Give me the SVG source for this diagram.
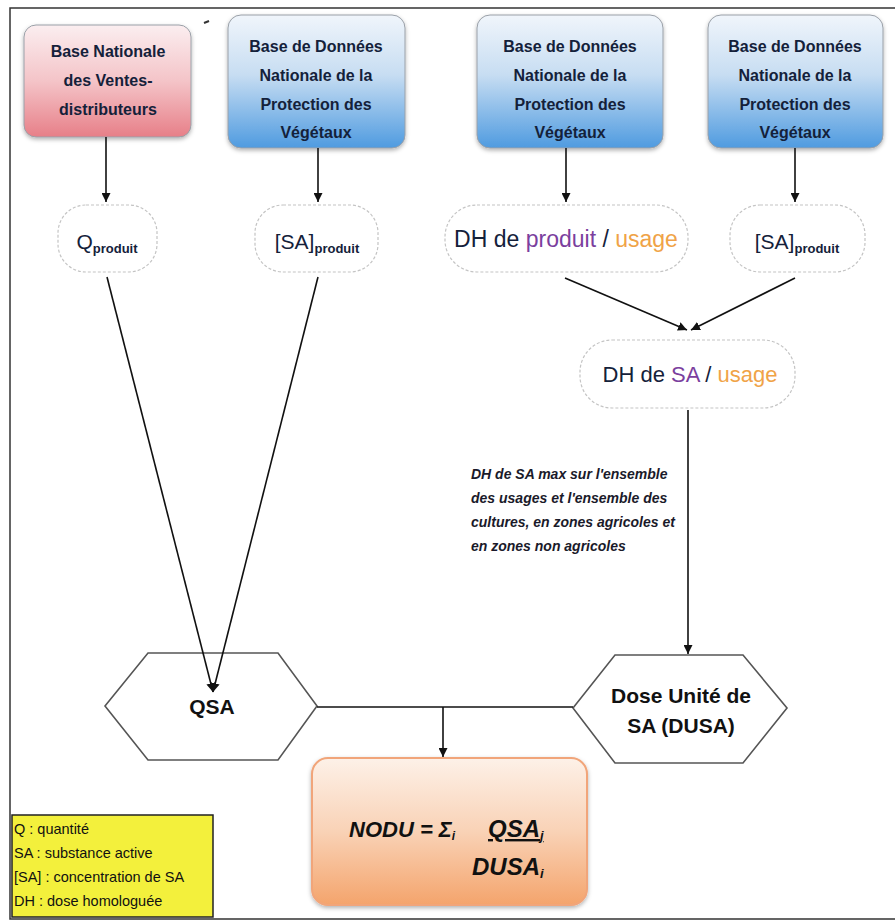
<svg xmlns="http://www.w3.org/2000/svg" width="895" height="922" viewBox="0 0 895 922">
<defs>
<linearGradient id="gPink" x1="0" y1="0" x2="0" y2="1"><stop offset="0" stop-color="#fbeef0"/><stop offset="0.5" stop-color="#f4c4c8"/><stop offset="1" stop-color="#e77f88"/></linearGradient>
<linearGradient id="gBlue" x1="0" y1="0" x2="0" y2="1"><stop offset="0" stop-color="#f0f5fb"/><stop offset="0.45" stop-color="#c7ddf2"/><stop offset="1" stop-color="#4f9be0"/></linearGradient>
<linearGradient id="gOrange" x1="0" y1="0" x2="0" y2="1"><stop offset="0" stop-color="#fdf1e8"/><stop offset="0.5" stop-color="#f9d2b6"/><stop offset="1" stop-color="#f4a46c"/></linearGradient>
<filter id="sh" x="-10%" y="-10%" width="120%" height="125%"><feDropShadow dx="0" dy="2" stdDeviation="2" flood-color="#000" flood-opacity="0.3"/></filter>
<marker id="arr" viewBox="0 0 10 10" refX="10" refY="5" markerWidth="9" markerHeight="9" markerUnits="userSpaceOnUse" orient="auto"><path d="M0,0 L10,5 L0,10 z" fill="#111"/></marker>
</defs>
<style>
.src{stroke:#9aa0a8;stroke-width:1}
.bt{font-family:"Liberation Sans",Arial,sans-serif;font-weight:bold;font-size:16px;fill:#14213a;text-anchor:middle}
.pill{fill:#fff;stroke:#c4c4c4;stroke-width:1.2;stroke-dasharray:3 2}
.pt{font-family:"Liberation Sans",Arial,sans-serif;fill:#14213a;text-anchor:middle}
.sub{font-size:13px;font-weight:bold}
.hex{fill:#fff;stroke:#555;stroke-width:1.6}
.ht{font-family:"Liberation Sans",Arial,sans-serif;font-weight:bold;font-size:21px;fill:#111;text-anchor:middle}
.cn{stroke:#111;stroke-width:1.6;fill:none}
.it{font-family:"Liberation Sans",Arial,sans-serif;font-weight:bold;font-style:italic;font-size:14px;fill:#1a1a2a}
.lg{font-family:"Liberation Sans",Arial,sans-serif;font-size:14.5px;fill:#111}
.pur{fill:#7b3f9e}
.org{fill:#f0a347}
.nf{font-family:"Liberation Sans",Arial,sans-serif;font-weight:bold;font-style:italic;font-size:24px;fill:#111}
</style>
<rect width="895" height="922" fill="#fff"/>
<polyline points="895,8 10,8 10,919 895,919" fill="none" stroke="#333" stroke-width="1.5"/>
<line x1="204" y1="23" x2="209" y2="21" stroke="#333" stroke-width="2"/>

<g id="n_bnv">
<rect x="24" y="25" width="167" height="112" rx="12" fill="url(#gPink)" class="src" filter="url(#sh)"/>
<text class="bt" x="108" y="57">Base Nationale</text>
<text class="bt" x="108" y="86">des Ventes-</text>
<text class="bt" x="108" y="115">distributeurs</text>
</g>
<g id="n_bdnpv1">
<rect x="228" y="15" width="177" height="133" rx="13" fill="url(#gBlue)" class="src" filter="url(#sh)"/>
<text class="bt" x="316" y="52">Base de Données</text>
<text class="bt" x="316" y="81">Nationale de la</text>
<text class="bt" x="316" y="110">Protection des</text>
<text class="bt" x="316" y="138">Végétaux</text>
</g>
<g id="n_bdnpv2">
<rect x="477" y="15" width="186" height="133" rx="13" fill="url(#gBlue)" class="src" filter="url(#sh)"/>
<text class="bt" x="570" y="52">Base de Données</text>
<text class="bt" x="570" y="81">Nationale de la</text>
<text class="bt" x="570" y="110">Protection des</text>
<text class="bt" x="570" y="138">Végétaux</text>
</g>
<g id="n_bdnpv3">
<rect x="708" y="15" width="175" height="133" rx="13" fill="url(#gBlue)" class="src" filter="url(#sh)"/>
<text class="bt" x="795" y="52">Base de Données</text>
<text class="bt" x="795" y="81">Nationale de la</text>
<text class="bt" x="795" y="110">Protection des</text>
<text class="bt" x="795" y="138">Végétaux</text>
</g>

<g id="n_qprod">
<rect class="pill" x="58" y="205" width="99" height="67" rx="28"/>
<text class="pt" x="107" y="249"><tspan font-size="21">Q</tspan><tspan class="sub" dy="4">produit</tspan></text>
</g>
<g id="n_saprod1">
<rect class="pill" x="255" y="205" width="123" height="67" rx="28"/>
<text class="pt" x="317" y="249"><tspan font-size="21">[SA]</tspan><tspan class="sub" dy="4">produit</tspan></text>
</g>
<g id="n_dhprod">
<rect class="pill" x="445" y="205" width="243" height="67" rx="32"/>
<text class="pt" x="566" y="247" font-size="23">DH de <tspan class="pur">produit</tspan> / <tspan class="org">usage</tspan></text>
</g>
<g id="n_saprod2">
<rect class="pill" x="730" y="205" width="135" height="67" rx="30"/>
<text class="pt" x="797" y="249"><tspan font-size="21">[SA]</tspan><tspan class="sub" dy="4">produit</tspan></text>
</g>
<g id="n_dhsa">
<rect class="pill" x="580" y="340" width="215" height="68" rx="32"/>
<text class="pt" x="690" y="382" font-size="22">DH de <tspan class="pur">SA</tspan> / <tspan class="org">usage</tspan></text>
</g>

<g id="n_note">
<text class="it" x="471" y="479">DH de SA max sur l'ensemble</text>
<text class="it" x="471" y="503">des usages et l'ensemble des</text>
<text class="it" x="471" y="527">cultures, en zones agricoles et</text>
<text class="it" x="471" y="551">en zones non agricoles</text>
</g>

<g id="n_qsa">
<polygon class="hex" points="105,706 148,653 278,653 317,706 278,760 148,760"/>
<text class="ht" x="212" y="714">QSA</text>
</g>
<g id="n_dusa">
<polygon class="hex" points="573,708 615,655 743,655 787,708 743,763 615,763"/>
<text class="ht" x="681" y="703">Dose Unité de</text>
<text class="ht" x="681" y="733">SA (DUSA)</text>
</g>

<g id="n_nodu">
<rect x="312" y="758" width="275" height="147" rx="16" fill="url(#gOrange)" stroke="#f1a57a" stroke-width="2" filter="url(#sh)"/>
<text class="nf" x="349" y="837"><tspan font-size="22">NODU = Σ</tspan><tspan font-size="12" dy="3">i</tspan><tspan x="488" dy="-3" text-decoration="underline">QSA</tspan><tspan font-size="13" dy="3" text-decoration="underline">j</tspan></text>
<text class="nf" x="472" y="875">DUSA<tspan font-size="13" dy="3">i</tspan></text>
</g>

<g id="legend">
<rect x="12" y="815" width="201" height="102" fill="#f3f03c" stroke="#222" stroke-width="1.5"/>
<text class="lg" x="14" y="834">Q : quantité</text>
<text class="lg" x="14" y="858">SA : substance active</text>
<text class="lg" x="14" y="882">[SA] : concentration de SA</text>
<text class="lg" x="14" y="906">DH : dose homologuée</text>
</g>

<g id="connectors">
<line class="cn" x1="106" y1="137" x2="106" y2="202" marker-end="url(#arr)"/>
<line class="cn" x1="318" y1="148" x2="318" y2="202" marker-end="url(#arr)"/>
<line class="cn" x1="566" y1="148" x2="566" y2="202" marker-end="url(#arr)"/>
<line class="cn" x1="795" y1="148" x2="795" y2="202" marker-end="url(#arr)"/>
<line class="cn" x1="107" y1="277" x2="213" y2="692" marker-end="url(#arr)"/>
<line class="cn" x1="318" y1="277" x2="213" y2="692" marker-end="url(#arr)"/>
<line class="cn" x1="565" y1="278" x2="687" y2="330" marker-end="url(#arr)"/>
<line class="cn" x1="795" y1="278" x2="691" y2="330" marker-end="url(#arr)"/>
<line class="cn" x1="688" y1="410" x2="688" y2="654" marker-end="url(#arr)"/>
<line class="cn" x1="317" y1="707" x2="573" y2="707"/>
<line class="cn" x1="443" y1="707" x2="443" y2="757" marker-end="url(#arr)"/>
</g>
</svg>
